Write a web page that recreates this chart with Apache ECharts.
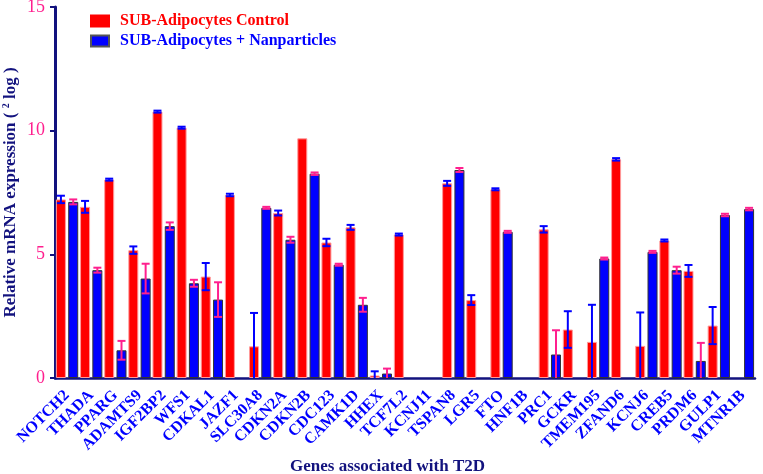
<!DOCTYPE html>
<html>
<head>
<meta charset="utf-8">
<script src="https://cdn.jsdelivr.net/npm/echarts@6/dist/echarts.min.js"></script>
<style>html,body{margin:0;padding:0;background:#fff;}#c{width:763px;height:474px;}</style>
</head>
<body>
<div id="c"></div>
<script>
var genes = ['NOTCH2','THADA','PPARG','ADAMTS9','IGF2BP2','WFS1','CDKAL1','JAZF1','SLC30A8','CDKN2A','CDKN2B','CDC123','CAMK1D','HHEX','TCF7L2','KCNJ11','TSPAN8','LGR5','FTO','HNF1B','PRC1','GCKR','TMEM195','ZFAND6','KCNJ6','CREB5','PRDM6','GULP1','MTNR1B'];
var controlValues = [7.22,6.92,8.02,5.17,10.77,10.12,4.10,7.40,1.28,6.67,9.69,5.48,6.09,0.10,5.80,0,7.87,3.15,7.63,0,6.01,1.96,1.46,8.84,1.30,5.56,4.33,2.12,0];
var controlErrors = [0.15,0.24,0.04,0.15,0.04,0.04,0.55,0.05,1.35,0.10,0,0.15,0.10,0.17,0.04,0,0.10,0.20,0.04,0,0.13,0.74,1.50,0.05,1.35,0.04,0.24,0.75,0];
var nanoValues = [7.12,4.36,1.12,4.02,6.14,3.83,3.17,0,6.88,5.59,8.26,4.58,2.96,0.18,0,0,8.41,0,5.91,0,0.95,0,4.83,0,5.10,4.36,0.69,6.59,6.83];
var nanoErrors = [0.10,0.10,0.38,0.60,0.15,0.14,0.70,0,0.04,0.12,0.05,0.04,0.28,0.20,0,0,0.08,0,0.04,0,0.98,0,0.04,0,0.04,0.14,0.73,0.05,0.05];
var yTicks = [0,5,10,15];
var seriesNames = ['SUB-Adipocytes Control','SUB-Adipocytes + Nanparticles'];
var xTitle = 'Genes associated with T2D';

var FONT = '"Liberation Serif","Times New Roman",serif';
var NAVY = '#12127e';
var PINK = '#ff1f8e';

function barData(vals){ return vals.map(function(v){ return v > 0 ? v : null; }); }
function errData(vals, errs){
  return vals.map(function(v,i){ return [i, v, errs[i]]; });
}
function errRenderer(offset, color){
  return function(params, api){
    var i = api.value(0), v = api.value(1), e = api.value(2);
    if (!(v > 0) || !(e > 0)) return;
    var lo = Math.max(0, v - e), hi = v + e;
    var pHi = api.coord([i, hi]);
    var pLo = api.coord([i, lo]);
    var x = pHi[0] + offset;
    var hw = 4;
    var st = {stroke: color, lineWidth: 2};
    var ch = [
      {type:'line', shape:{x1:x,y1:pHi[1],x2:x,y2:pLo[1]}, style:st},
      {type:'line', shape:{x1:x-hw,y1:pHi[1],x2:x+hw,y2:pHi[1]}, style:st}
    ];
    if (v - e > 0) ch.push({type:'line', shape:{x1:x-hw,y1:pLo[1],x2:x+hw,y2:pLo[1]}, style:st});
    return {type:'group', children: ch};
  };
}

var chart = echarts.init(document.getElementById('c'), null, {renderer:'canvas'});
chart.setOption({
  animation: false,
  backgroundColor: '#fff',
  grid: {left: 55, top: 7, width: 700, bottom: 96, containLabel: false, outerBoundsMode: 'none'},
  legend: {
    data: [
      {name: seriesNames[0], textStyle: {color: '#ff0000'}, itemStyle: {borderColor: '#ff0000'}},
      {name: seriesNames[1], textStyle: {color: '#0000ff'}, itemStyle: {borderColor: '#555555'}}
    ],
    orient: 'vertical', left: 85, top: 8, itemWidth: 18, itemHeight: 11, itemGap: 4,
    icon: 'rect',
    textStyle: {fontFamily: FONT, fontWeight: 'bold', fontSize: 16, padding: [0,0,0,6]}
  },
  xAxis: {
    type: 'category', data: genes,
    axisLine: {lineStyle: {color: NAVY, width: 2.5}},
    axisTick: {alignWithLabel: true, length: 6, lineStyle: {color: NAVY, width: 2}},
    axisLabel: {interval: 0, rotate: 45, margin: 15, color: '#0000ff', fontFamily: FONT, fontWeight: 'bold', fontSize: 16}
  },
  yAxis: {
    type: 'value', min: yTicks[0], max: yTicks[yTicks.length-1], interval: 5,
    splitLine: {show: false},
    axisLine: {show: true, lineStyle: {color: NAVY, width: 3}},
    axisTick: {show: true, length: 5, lineStyle: {color: NAVY, width: 2}},
    axisLabel: {color: PINK, fontFamily: FONT, fontSize: 18, margin: 10},
    name: '{a|Relative mRNA expression ( }{s|2}{a| log )}',
    nameLocation: 'middle', nameGap: 35, nameRotate: 90, nameMoveOverlap: false,
    nameTextStyle: {
      rich: {
        a: {fontFamily: FONT, fontWeight: 'bold', fontSize: 17, color: NAVY},
        s: {fontFamily: FONT, fontWeight: 'bold', fontSize: 10, color: NAVY, padding: [0,0,9,0]}
      }
    }
  },
  graphic: [{
    type: 'text', left: 290, top: 458,
    style: {text: xTitle, fill: NAVY, font: 'bold 17px ' + FONT}
  }],
  series: [
    {name: seriesNames[0], type: 'bar', data: barData(controlValues), barWidth: 10, barGap: '23%',
     itemStyle: {color: '#ff0000', borderColor: '#ff9a9a', borderWidth: 1}},
    {name: seriesNames[1], type: 'bar', data: barData(nanoValues), barWidth: 10, barGap: '23%',
     itemStyle: {color: '#0000ff', borderColor: '#333333', borderWidth: 1}},
    {name: 'errC', type: 'custom', data: errData(controlValues, controlErrors), z: 5,
     encode: {x: 0, y: 1}, renderItem: errRenderer(-6.15, '#0000ff')},
    {name: 'errN', type: 'custom', data: errData(nanoValues, nanoErrors), z: 5,
     encode: {x: 0, y: 1}, renderItem: errRenderer(6.15, PINK)}
  ]
});
</script>
</body>
</html>
